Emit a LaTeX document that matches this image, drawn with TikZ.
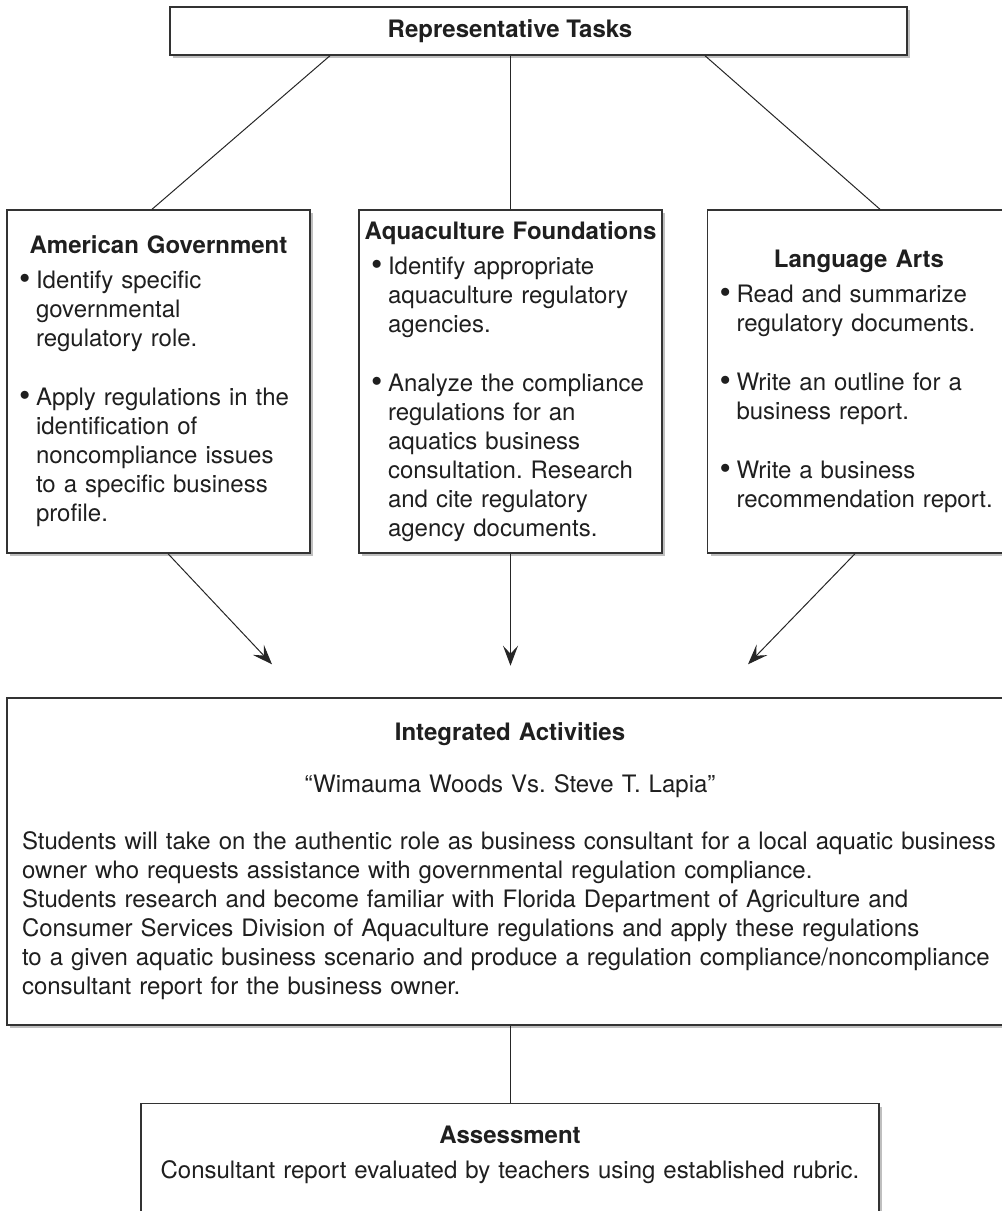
\documentclass[tikz,border=0pt]{standalone}
\usepackage{fontspec}
\usepackage{graphicx}
\setmainfont{TeX Gyre Heros}
\usetikzlibrary{shadows}
\usetikzlibrary{positioning}
\usetikzlibrary{arrows.meta}
\usetikzlibrary{calc}
\frenchspacing
\newcommand{\bodyfont}{\fontsize{12}{14.5}\selectfont}
\newcommand{\heading}[1]{\makebox[\hsize]{\bfseries #1}}
\newcommand{\bul}{\makebox[8.5pt][l]{\raisebox{-0.5pt}{\scalebox{1.35}{\textbullet}}}}
\newcommand{\cont}{\hspace*{8.5pt}}
\tikzstyle{card}=[draw=black!80,line width=0.7pt,fill=white,text=black!88,drop shadow={shadow xshift=1.5pt,shadow yshift=-1.5pt,fill=black!25,opacity=1}]
\tikzstyle{subject}=[card,text width=139.5pt,inner xsep=6pt,minimum height=171.5pt,align=left,font=\bodyfont]
\tikzstyle{link}=[draw=black!85,line width=0.5pt]
\tikzstyle{feed}=[link,-{Stealth[length=10pt,width=7.5pt,inset=4pt]}]
\begin{document}
\begin{tikzpicture}[x=0.5pt,y=-0.5pt]
  \useasboundingbox (0,0) rectangle (1002,1211);
  \clip (0,0) rectangle (1002,1211);

  % top
  \node[card,minimum width=368.5pt,minimum height=24pt] (tasks) at (538.5,31) {};
  \node[font=\bodyfont\bfseries,text=black!88] (taskstitle) at (510,31) {Representative Tasks};

  % the three subjects
  \node[subject] (amgov) at (158.5,381.5) {\heading{American Government}\\[3pt]
    \bul Identify specific\\ \cont governmental\\ \cont regulatory role.\\[15pt]
    \bul Apply regulations in the\\ \cont identification of\\ \cont noncompliance issues\\
    \cont to a specific business\\ \cont profile.};
  \node[subject] (aqua) at (510.5,381.5) {\heading{Aquaculture Foundations}\\[3pt]
    \bul Identify appropriate\\ \cont aquaculture regulatory\\ \cont agencies.\\[15pt]
    \bul Analyze the compliance\\ \cont regulations for an\\ \cont aquatics business\\
    \cont consultation. Research\\ \cont and cite regulatory\\ \cont agency documents.};
  \node[subject] (lang) at (859,381.5) {\heading{Language Arts}\\[3pt]
    \bul Read and summarize\\ \cont regulatory documents.\\[15pt]
    \bul Write an outline for a\\ \cont business report.\\[15pt]
    \bul Write a business\\ \cont recommendation report.};

  % integrated activities
  \node[card,text width=488pt,inner xsep=7.5pt,minimum height=163.5pt,align=left,font=\bodyfont] (integ) at (510,861.5) {\heading{Integrated Activities}\\[11.5pt]
    \makebox[\hsize]{“Wimauma Woods Vs. Steve T. Lapia”}\\[14pt]
    Students will take on the authentic role as business consultant for a local aquatic business\\
    owner who requests assistance with governmental regulation compliance.\\
    Students research and become familiar with Florida Department of Agriculture and\\
    Consumer Services Division of Aquaculture regulations and apply these regulations\\
    to a given aquatic business scenario and produce a regulation compliance/noncompliance\\
    consultant report for the business owner.};

  % assessment
  \node[card,anchor=north,text width=354pt,inner xsep=7.5pt,inner ysep=8pt,text height=12pt,text depth=40pt,align=center,font=\bodyfont] (assess) at (510,1103) {\textbf{Assessment}\\[3pt]
    Consultant report evaluated by teachers using established rubric.};

  \path[link] ($(tasks.south)+(-208.5,0)$) -- ($(amgov.north)+(-6.5,0)$);
  \path[link] (aqua.north |- tasks.south) -- (aqua.north);
  \path[link] ($(tasks.south)+(166.5,0)$) -- ($(lang.north)+(21,0)$);

  \path[feed] ($(amgov.south)+(9.5,0)$) -- ($(integ.north)+(-238,-33)$);
  \path[feed] (aqua.south) -- ($(aqua.south)+(0,112)$);
  \path[feed] ($(lang.south)+(-4,0)$) -- ($(integ.north)+(238,-33)$);

  \path[link] (integ.south) -- (assess.north);
\end{tikzpicture}
\end{document}
